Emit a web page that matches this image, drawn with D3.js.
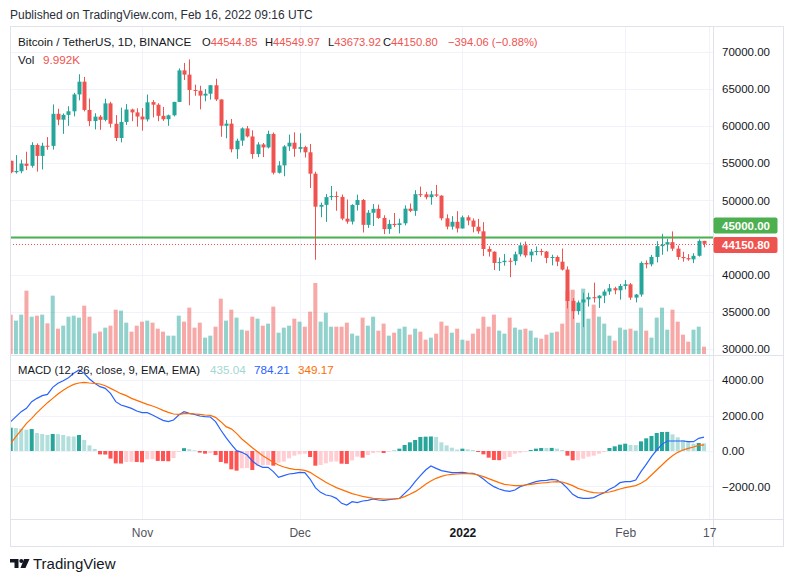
<!DOCTYPE html>
<html>
<head>
<meta charset="utf-8">
<script src="https://cdn.jsdelivr.net/npm/d3@7"></script>
<style>
  body { margin: 0; background: #fff; }
  svg text { font-family: "Liberation Sans", Arial, sans-serif; }
</style>
</head>
<body>
<svg id="chart" width="793" height="582"></svg>
<script>
// ---- data (BTC/USDT daily, Oct 7 2021 .. Feb 16 2022) ----
var opens = [
    55338, 53802, 53929, 54950, 54660, 57471, 55996, 57370, 57347, 61672, 60875, 61528, 62005, 64280, 66001, 62193, 60688, 61286, 60852, 63079, 60328, 58413, 60575, 62253, 61859,
    61300, 60911, 63254, 62896, 61395, 60940, 61470, 63273, 67525, 66947, 64882, 64774, 64122, 64380, 65519, 63606, 60059, 60345, 56891, 58057, 59707, 58617, 56247, 57541, 57138, 58960, 53724, 54721, 57275, 57776,
    56950, 57185, 56485, 53601, 49152, 49397, 50441, 50589, 50471, 47535, 47140, 49389, 50053, 46702, 48336, 48864, 47632, 46133, 46834, 46681, 46914, 48887, 48588, 50839, 50820, 50428, 50809, 50640, 47588, 46464, 47121,
    46217, 47723, 47287, 46446, 45833, 43451, 43082, 41566, 41679, 41865, 41822, 42735, 43950, 42592, 43099, 43177, 43113, 42250, 42374, 41744, 40680, 36471, 35071, 36244, 36660, 36958, 36807, 37160, 37716, 38166, 37882,
    38467, 38694, 36897, 37311, 41571, 41382, 42380, 43839, 44043, 44372, 43495, 42373, 42217, 42054, 42535, 44544.85
];
var highs = [
    55338, 56100, 55489, 56561, 57839, 57680, 57777, 58532, 62933, 62350, 61719, 62695, 64486, 67000, 66639, 63732, 61747, 61500, 63710, 63293, 61496, 62499, 62980, 62359, 62405,
    62437, 64270, 63516, 63086, 62595, 61560, 63286, 67789, 68524, 69000, 65600, 65450, 65000, 65550, 66401, 63617, 60840, 60976, 58320, 59845, 60029, 59444, 57845, 57735, 59398, 59150, 55281, 57445, 58865, 59176,
    59053, 57375, 57600, 53859, 49699, 50857, 51936, 51200, 50797, 50125, 49485, 50777, 50189, 48700, 49500, 49436, 47995, 47392, 48300, 47537, 49328, 49576, 51375, 51864, 51156, 51281, 52088, 50704, 48120, 47879, 48548,
    47954, 47990, 47570, 47510, 47070, 43817, 43145, 42300, 42786, 42248, 43100, 44322, 44458, 43448, 43800, 43476, 43175, 42680, 42578, 43505, 41100, 36835, 36499, 37550, 37545, 38919, 37234, 38000, 38720, 38360, 38744,
    39265, 38855, 37387, 41772, 41913, 42656, 44500, 45492, 44799, 45821, 43920, 43079, 42760, 42876, 44751, 44549.97
];
var lows = [
    53657, 53617, 53661, 54080, 54415, 53879, 54167, 56818, 56850, 60140, 58963, 60046, 61322, 63481, 62000, 60000, 59562, 59510, 60650, 59817, 58000, 57820, 60174, 60673, 59945,
    59405, 60624, 61184, 60677, 60721, 60050, 61322, 63273, 66222, 62822, 64100, 62278, 63360, 63576, 63400, 58574, 58373, 56474, 55600, 57353, 58486, 55610, 55837, 55837, 57000, 53500, 53610, 53256, 56667, 55875,
    56458, 55777, 51680, 42000, 47727, 47100, 50039, 48600, 47320, 46852, 46751, 48638, 45672, 46290, 46547, 47511, 45456, 45500, 46406, 45558, 46630, 48421, 47920, 50449, 50142, 49412, 50449, 47313, 46096, 46060, 45678,
    46208, 46654, 45697, 45502, 42500, 42430, 40611, 40501, 41200, 39650, 41268, 42450, 42311, 41725, 42605, 42578, 41540, 41250, 41138, 40553, 35440, 34008, 34601, 32917, 35701, 36234, 35507, 36155, 37268, 37351, 36632,
    38000, 36586, 36250, 37026, 40843, 41116, 41645, 42667, 43117, 43187, 42000, 41748, 41870, 41550, 42427, 43673.92
];
var closes = [
    53805, 53967, 54968, 54660, 57471, 55996, 57367, 57347, 61672, 60875, 61528, 62010, 64280, 66001, 62193, 60688, 61286, 60852, 63078, 60328, 58413, 60575, 62253, 61859, 61300,
    60911, 63219, 62896, 61395, 60937, 61470, 63273, 67525, 66947, 64882, 64774, 64122, 64380, 65519, 63606, 60058, 60344, 56891, 58052, 59707, 58622, 56247, 57541, 57138, 58960, 53727, 54721, 57274, 57777, 56951,
    57184, 56480, 53601, 49152, 49396, 50441, 50588, 50471, 47545, 47140, 49389, 50053, 46702, 48343, 48864, 47632, 46131, 46834, 46681, 46914, 48890, 48588, 50838, 50821, 50429, 50809, 50640, 47588, 46464, 47120, 46216,
    47722, 47287, 46446, 45833, 43451, 43082, 41566, 41679, 41864, 41822, 42736, 43950, 42592, 43099, 43177, 43113, 42250, 42375, 41744, 40680, 36445, 35071, 36244, 36660, 36958, 36809, 37160, 37716, 38166, 37881, 38467,
    38694, 36896, 37311, 41574, 41383, 42380, 43840, 44043, 44372, 43495, 42373, 42217, 42053, 42535, 44544, 44150.80
];
// volume in thousands of BTC
var volumes = [
    53.9, 45.7, 53.9, 86.8, 51.1, 52.5, 53.9, 42.0, 79.9, 34.7, 38.8, 51.1, 52.5, 49.8, 66.2, 51.1, 28.3, 30.6, 36.1, 38.8, 60.7, 59.4, 42.9, 30.6, 38.8,
    44.3, 45.7, 42.9, 34.7, 30.6, 25.1, 25.1, 52.5, 44.3, 63.5, 36.1, 42.9, 22.4, 25.1, 37.4, 75.8, 45.7, 60.7, 49.8, 33.3, 32.0, 51.1, 48.4, 38.8, 41.6, 64.9, 29.2, 36.1, 38.8, 48.4,
    44.3, 37.4, 58.0, 97.3, 44.3, 56.6, 37.4, 37.4, 37.4, 42.9, 27.9, 25.1, 49.8, 38.8, 51.1, 32.0, 41.6, 25.1, 29.2, 34.7, 37.4, 26.5, 34.7, 30.6, 19.6, 22.4, 27.9, 44.3, 38.8, 29.2, 34.7,
    19.6, 18.3, 27.9, 34.7, 51.1, 37.4, 53.9, 32.0, 27.9, 49.8, 36.1, 33.3, 34.7, 32.0, 22.4, 21.0, 26.5, 29.2, 30.6, 41.6, 86.8, 88.1, 42.9, 89.5, 48.4, 67.6, 51.1, 41.6, 25.1, 18.3, 36.1,
    33.3, 34.7, 32.0, 63.5, 32.0, 22.4, 49.8, 63.5, 33.3, 60.7, 44.3, 26.5, 16.9, 33.3, 37.4, 9.992
];
var macdLine = [
    1657, 1940, 2222, 2410, 2787, 2975, 3126, 3200, 3597, 3823, 3973, 4143, 4387, 4576, 4387, 4067, 3823, 3634, 3540, 3258, 2787, 2599, 2504, 2410, 2260,
    2165, 2165, 2034, 1883, 1732, 1657, 1751, 2034, 2222, 2128, 2071, 1977, 1940, 1920, 1657, 1186, 753, 370, 20, -75, -226, -565, -791, -923, -923, -1167, -1488, -1394, -1300, -1262,
    -1205, -1224, -1582, -2071, -2335, -2486, -2542, -2674, -2956, -3050, -2862, -2919, -2825, -2787, -2712, -2768, -2787, -2749, -2712, -2674, -2391, -2109, -1732, -1393, -1073, -847, -979, -1111, -1167, -1224, -1224,
    -1205, -1243, -1260, -1370, -1582, -1827, -2015, -2147, -2241, -2278, -2203, -2015, -1921, -1827, -1732, -1676, -1657, -1601, -1638, -1827, -2109, -2448, -2617, -2674, -2674, -2636, -2486, -2354, -2165, -2015, -1789,
    -1732, -1732, -1638, -1167, -753, -320, 56, 376, 565, 565, 565, 565, 527, 527, 716, 784.21
];
var signalLine = [
    433, 810, 1186, 1563, 1845, 2165, 2448, 2730, 2975, 3220, 3427, 3615, 3766, 3841, 3879, 3841, 3823, 3785, 3690, 3540, 3389, 3239, 3126, 2975, 2862,
    2749, 2636, 2542, 2429, 2297, 2184, 2090, 2071, 2109, 2109, 2090, 2071, 2034, 2015, 1900, 1657, 1375, 1250, 998, 678, 433, 188, -38, -264, -452, -640, -791, -904, -979, -1036,
    -1054, -1092, -1205, -1394, -1582, -1770, -1921, -2071, -2184, -2297, -2410, -2486, -2561, -2617, -2674, -2693, -2712, -2712, -2712, -2674, -2580, -2448, -2297, -2109, -1883, -1695, -1544, -1431, -1356, -1318, -1300,
    -1280, -1280, -1290, -1356, -1450, -1563, -1676, -1789, -1883, -1921, -1958, -1958, -1921, -1883, -1845, -1808, -1789, -1751, -1732, -1751, -1845, -1958, -2109, -2203, -2297, -2354, -2373, -2354, -2316, -2241, -2147,
    -2071, -2015, -1958, -1827, -1638, -1356, -1073, -791, -508, -264, -75, 56, 150, 226, 320, 349.17
];
var histogram = [
    1318, 1300, 1262, 1205, 1240, 1017, 960, 904, 960, 950, 904, 828, 820, 904, 621, 320, 113, -190, -200, -430, -700, -710, -620, -610, -620,
    -640, -470, -460, -560, -570, -580, -400, -50, 160, 100, 40, -90, -150, -120, -230, -620, -700, -1036, -1111, -979, -960, -1073, -847, -810, -791, -829, -659, -603, -414, -264,
    -188, -151, -339, -829, -791, -697, -603, -590, -716, -730, -527, -320, -377, -226, -113, -75, -113, -38, 19, 132, 339, 490, 621, 791, 810, 820, 800, 490, 320, 188, 75,
    132, 94, 56, -56, -188, -377, -508, -520, -452, -339, -151, -94, -38, 56, 132, 170, 165, 175, 132, 56, -264, -527, -520, -433, -320, -264, -151, -56, 170, 264, 358,
    414, 339, 335, 546, 716, 847, 1017, 1073, 1080, 942, 772, 621, 527, 414, 452, 435.04
];
var lastChange = -394.06, lastChangePct = -0.88;

var priceTicks = [30000, 35000, 40000, 45000, 50000, 55000, 60000, 65000, 70000];
var macdTicks = [-2000, 0, 2000, 4000];
var timeTickDates = ["2021-11-01", "2021-12-01", "2022-01-01", "2022-02-01", "2022-02-17"];
var timeTickLabels = ["Nov", "Dec", "2022", "Feb", "17"];
var alertLevel = 45000;

// ---- layout ----
var paneL = 10, paneR = 713, boxR = 783;
var mainTop = 27, mainBot = 355, macdBot = 519, axisBot = 547;

var upColor = "#26a69a", downColor = "#ef5350";
var gridColor = "#f0f3fa", borderColor = "#e0e3eb", textColor = "#131722";

var days = d3.utcDay.range(Date.UTC(2021, 9, 7), Date.UTC(2022, 1, 17));
var candles = days.map(function (d, i) {
    return { date: d, o: opens[i], h: highs[i], l: lows[i], c: closes[i], v: volumes[i],
             macd: macdLine[i], signal: signalLine[i], hist: histogram[i], i: i };
});

var svg = d3.select("#chart");

var x = d3.scaleUtc()
    .domain([days[0], days[days.length - 1]])
    .range([10.7, 704]);
var yPrice = d3.scaleLinear().domain([30000, 70000]).range([348.8, 52]);
var yVol = d3.scaleLinear().domain([0, 100]).range([354, 281]);
var yMacd = d3.scaleLinear().domain([-2000, 4000]).range([486.4, 380.2]);

svg.append("rect").attr("width", 793).attr("height", 582).attr("fill", "#fff");

// header
svg.append("text")
    .attr("x", 10).attr("y", 19)
    .attr("font-size", 12).attr("fill", "#2a2e39")
    .text("Published on TradingView.com, Feb 16, 2022 09:16 UTC");

// clip for panes
var defs = svg.append("defs");
defs.append("clipPath").attr("id", "mainClip")
    .append("rect").attr("x", paneL).attr("y", mainTop).attr("width", paneR - paneL).attr("height", mainBot - mainTop);
defs.append("clipPath").attr("id", "macdClip")
    .append("rect").attr("x", paneL).attr("y", mainBot).attr("width", paneR - paneL).attr("height", macdBot - mainBot);

// grid
var grid = svg.append("g");
var tickDates = timeTickDates.map(function (s) { return d3.isoParse(s + "T00:00:00Z"); });
grid.selectAll("line.vg")
    .data(tickDates)
    .join("line")
    .attr("x1", d => Math.round(x(d)) + 0.5).attr("x2", d => Math.round(x(d)) + 0.5)
    .attr("y1", mainTop).attr("y2", macdBot)
    .attr("stroke", gridColor);
grid.selectAll("line.hg")
    .data(priceTicks)
    .join("line")
    .attr("x1", paneL).attr("x2", paneR)
    .attr("y1", d => Math.round(yPrice(d)) + 0.5).attr("y2", d => Math.round(yPrice(d)) + 0.5)
    .attr("stroke", gridColor);
grid.append("g").selectAll("line")
    .data(macdTicks)
    .join("line")
    .attr("x1", paneL).attr("x2", paneR)
    .attr("y1", d => Math.round(yMacd(d)) + 0.5).attr("y2", d => Math.round(yMacd(d)) + 0.5)
    .attr("stroke", gridColor);

// main pane
var main = svg.append("g").attr("clip-path", "url(#mainClip)");

// volume
main.append("g").selectAll("rect")
    .data(candles)
    .join("rect")
    .attr("x", d => x(d.date) - 2)
    .attr("width", 4)
    .attr("y", d => yVol(d.v))
    .attr("height", d => yVol(0) - yVol(d.v))
    .attr("fill", d => d.c >= d.o ? upColor : downColor)
    .attr("fill-opacity", 0.5);

// alert line and last price line
main.append("line")
    .attr("x1", paneL).attr("x2", paneR)
    .attr("y1", yPrice(alertLevel)).attr("y2", yPrice(alertLevel))
    .attr("stroke", "#4caf50").attr("stroke-width", 2);
main.append("line")
    .attr("x1", paneL).attr("x2", paneR)
    .attr("y1", Math.round(yPrice(closes[closes.length - 1])) + 0.5)
    .attr("y2", Math.round(yPrice(closes[closes.length - 1])) + 0.5)
    .attr("stroke", downColor).attr("stroke-dasharray", "1,2");

// candles
var cg = main.append("g").selectAll("g")
    .data(candles)
    .join("g")
    .attr("fill", d => d.c >= d.o ? upColor : downColor)
    .attr("stroke", d => d.c >= d.o ? upColor : downColor);
cg.append("line")
    .attr("x1", d => Math.round(x(d.date)) + 0.5).attr("x2", d => Math.round(x(d.date)) + 0.5)
    .attr("y1", d => yPrice(d.h)).attr("y2", d => yPrice(d.l))
    .attr("stroke-width", 1);
cg.append("rect")
    .attr("x", d => Math.round(x(d.date)) - 1.5)
    .attr("width", 4)
    .attr("y", d => yPrice(Math.max(d.o, d.c)))
    .attr("height", d => Math.max(1, Math.abs(yPrice(d.o) - yPrice(d.c))))
    .attr("stroke", "none");

// macd pane
var macdG = svg.append("g").attr("clip-path", "url(#macdClip)");
macdG.append("g").selectAll("rect")
    .data(candles)
    .join("rect")
    .attr("x", d => x(d.date) - 2)
    .attr("width", 4)
    .attr("y", d => yMacd(Math.max(0, d.hist)))
    .attr("height", d => Math.abs(yMacd(d.hist) - yMacd(0)))
    .attr("fill", function (d) {
        var prev = d.i > 0 ? histogram[d.i - 1] : -Infinity;
        var rising = d.hist >= prev;
        if (d.hist >= 0) return rising ? "#26a69a" : "#b2dfdb";
        return rising ? "#ffcdd2" : "#ff5252";
    });
var line = d3.line().x(d => x(d.date));
macdG.append("path")
    .datum(candles)
    .attr("fill", "none").attr("stroke", "#2962ff").attr("stroke-width", 1.2)
    .attr("d", line.y(d => yMacd(d.macd)));
macdG.append("path")
    .datum(candles)
    .attr("fill", "none").attr("stroke", "#ff6d00").attr("stroke-width", 1.2)
    .attr("d", line.y(d => yMacd(d.signal)));

// borders and separators
svg.append("rect")
    .attr("x", paneL + 0.5).attr("y", mainTop - 0.5)
    .attr("width", boxR - paneL).attr("height", axisBot - mainTop)
    .attr("fill", "none").attr("stroke", borderColor);
svg.append("line").attr("x1", paneL).attr("x2", boxR).attr("y1", mainBot + 0.5).attr("y2", mainBot + 0.5).attr("stroke", borderColor);
svg.append("line").attr("x1", paneL).attr("x2", boxR).attr("y1", macdBot + 0.5).attr("y2", macdBot + 0.5).attr("stroke", borderColor);
svg.append("line").attr("x1", paneR + 0.5).attr("x2", paneR + 0.5).attr("y1", mainTop).attr("y2", axisBot).attr("stroke", borderColor);

// axes (the 45000 tick text sits under the alert label, so it is not drawn)
var priceAxis = svg.append("g")
    .attr("transform", "translate(" + paneR + ",0)")
    .call(d3.axisRight(yPrice)
        .tickValues(priceTicks.filter(t => t !== alertLevel))
        .tickFormat(d3.format(".2f")).tickSize(0).tickPadding(9));
var macdAxis = svg.append("g")
    .attr("transform", "translate(" + paneR + ",0)")
    .call(d3.axisRight(yMacd).tickValues(macdTicks).tickFormat(d3.format(".2f")).tickSize(0).tickPadding(9));
var timeAxis = svg.append("g")
    .attr("transform", "translate(0," + macdBot + ")")
    .call(d3.axisBottom(x).tickValues(tickDates).tickFormat((d, i) => timeTickLabels[i]).tickSize(0).tickPadding(9.5));
[priceAxis, macdAxis, timeAxis].forEach(function (a) {
    a.select(".domain").remove();
    a.selectAll("text")
        .attr("font-family", "Liberation Sans, Arial, sans-serif")
        .attr("font-size", 11.5)
        .attr("fill", textColor);
});
timeAxis.selectAll("text").attr("fill", "#50535e").attr("font-size", 12);
timeAxis.selectAll("text").filter((d, i) => timeTickLabels[i] === "2022")
    .attr("font-weight", "bold").attr("fill", textColor);

// price labels on axis
function axisLabel(cy, fill, txt) {
    svg.append("rect")
        .attr("x", paneR + 0.5).attr("y", cy - 8).attr("width", 64).attr("height", 16)
        .attr("rx", 2).attr("fill", fill);
    svg.append("text")
        .attr("x", paneR + 9).attr("y", cy).attr("dy", "0.35em")
        .attr("font-size", 11.5).attr("font-weight", "bold").attr("fill", "#fff")
        .text(txt);
}
axisLabel(225.5, "#4caf50", d3.format(".2f")(alertLevel));
axisLabel(yPrice(closes[closes.length - 1]) + 1.2, downColor, d3.format(".2f")(closes[closes.length - 1]));

// legend
var last = candles[candles.length - 1];
var fmt = d3.format(".2f");
var legendSize = 11.7, ohlcSize = 11.2;
svg.append("text").attr("x", 18).attr("y", 46).attr("font-size", legendSize).attr("fill", textColor)
    .text("Bitcoin / TetherUS, 1D, BINANCE");
[["O", last.o, 202], ["H", last.h, 265], ["L", last.l, 328], ["C", last.c, 383]].forEach(function (p) {
    var t = svg.append("text").attr("x", p[2]).attr("y", 46).attr("font-size", ohlcSize);
    t.append("tspan").attr("fill", textColor).text(p[0]);
    t.append("tspan").attr("fill", downColor).text(fmt(p[1]));
});
svg.append("text").attr("x", 448).attr("y", 46).attr("font-size", ohlcSize).attr("fill", downColor)
    .text(fmt(lastChange) + " (" + fmt(lastChangePct) + "%)");
svg.append("text").attr("x", 18).attr("y", 64).attr("font-size", legendSize).attr("fill", textColor).text("Vol");
svg.append("text").attr("x", 43).attr("y", 64).attr("font-size", legendSize).attr("fill", downColor)
    .text(d3.format(".3f")(last.v) + "K");

svg.append("text").attr("x", 18).attr("y", 374).attr("font-size", 11.3).attr("fill", textColor)
    .text("MACD (12, 26, close, 9, EMA, EMA)");
svg.append("text").attr("x", 210).attr("y", 374).attr("font-size", legendSize).attr("fill", "#9fd8d2").text(fmt(last.hist));
svg.append("text").attr("x", 254).attr("y", 374).attr("font-size", legendSize).attr("fill", "#2962ff").text(fmt(last.macd));
svg.append("text").attr("x", 298).attr("y", 374).attr("font-size", legendSize).attr("fill", "#ff6d00").text(fmt(last.signal));

// footer logo
var logo = svg.append("g").attr("fill", "#131722");
logo.append("path").attr("d", "M10,559 H18.5 V568 H14.5 V562.5 H10 Z");
logo.append("circle").attr("cx", 21.3).attr("cy", 561).attr("r", 2);
logo.append("path").attr("d", "M24,559 H29.5 L25.5,568 H20.5 Z");
svg.append("text").attr("x", 33).attr("y", 568.5).attr("font-size", 15).attr("fill", "#131722")
    .text("TradingView");
</script>
</body>
</html>
